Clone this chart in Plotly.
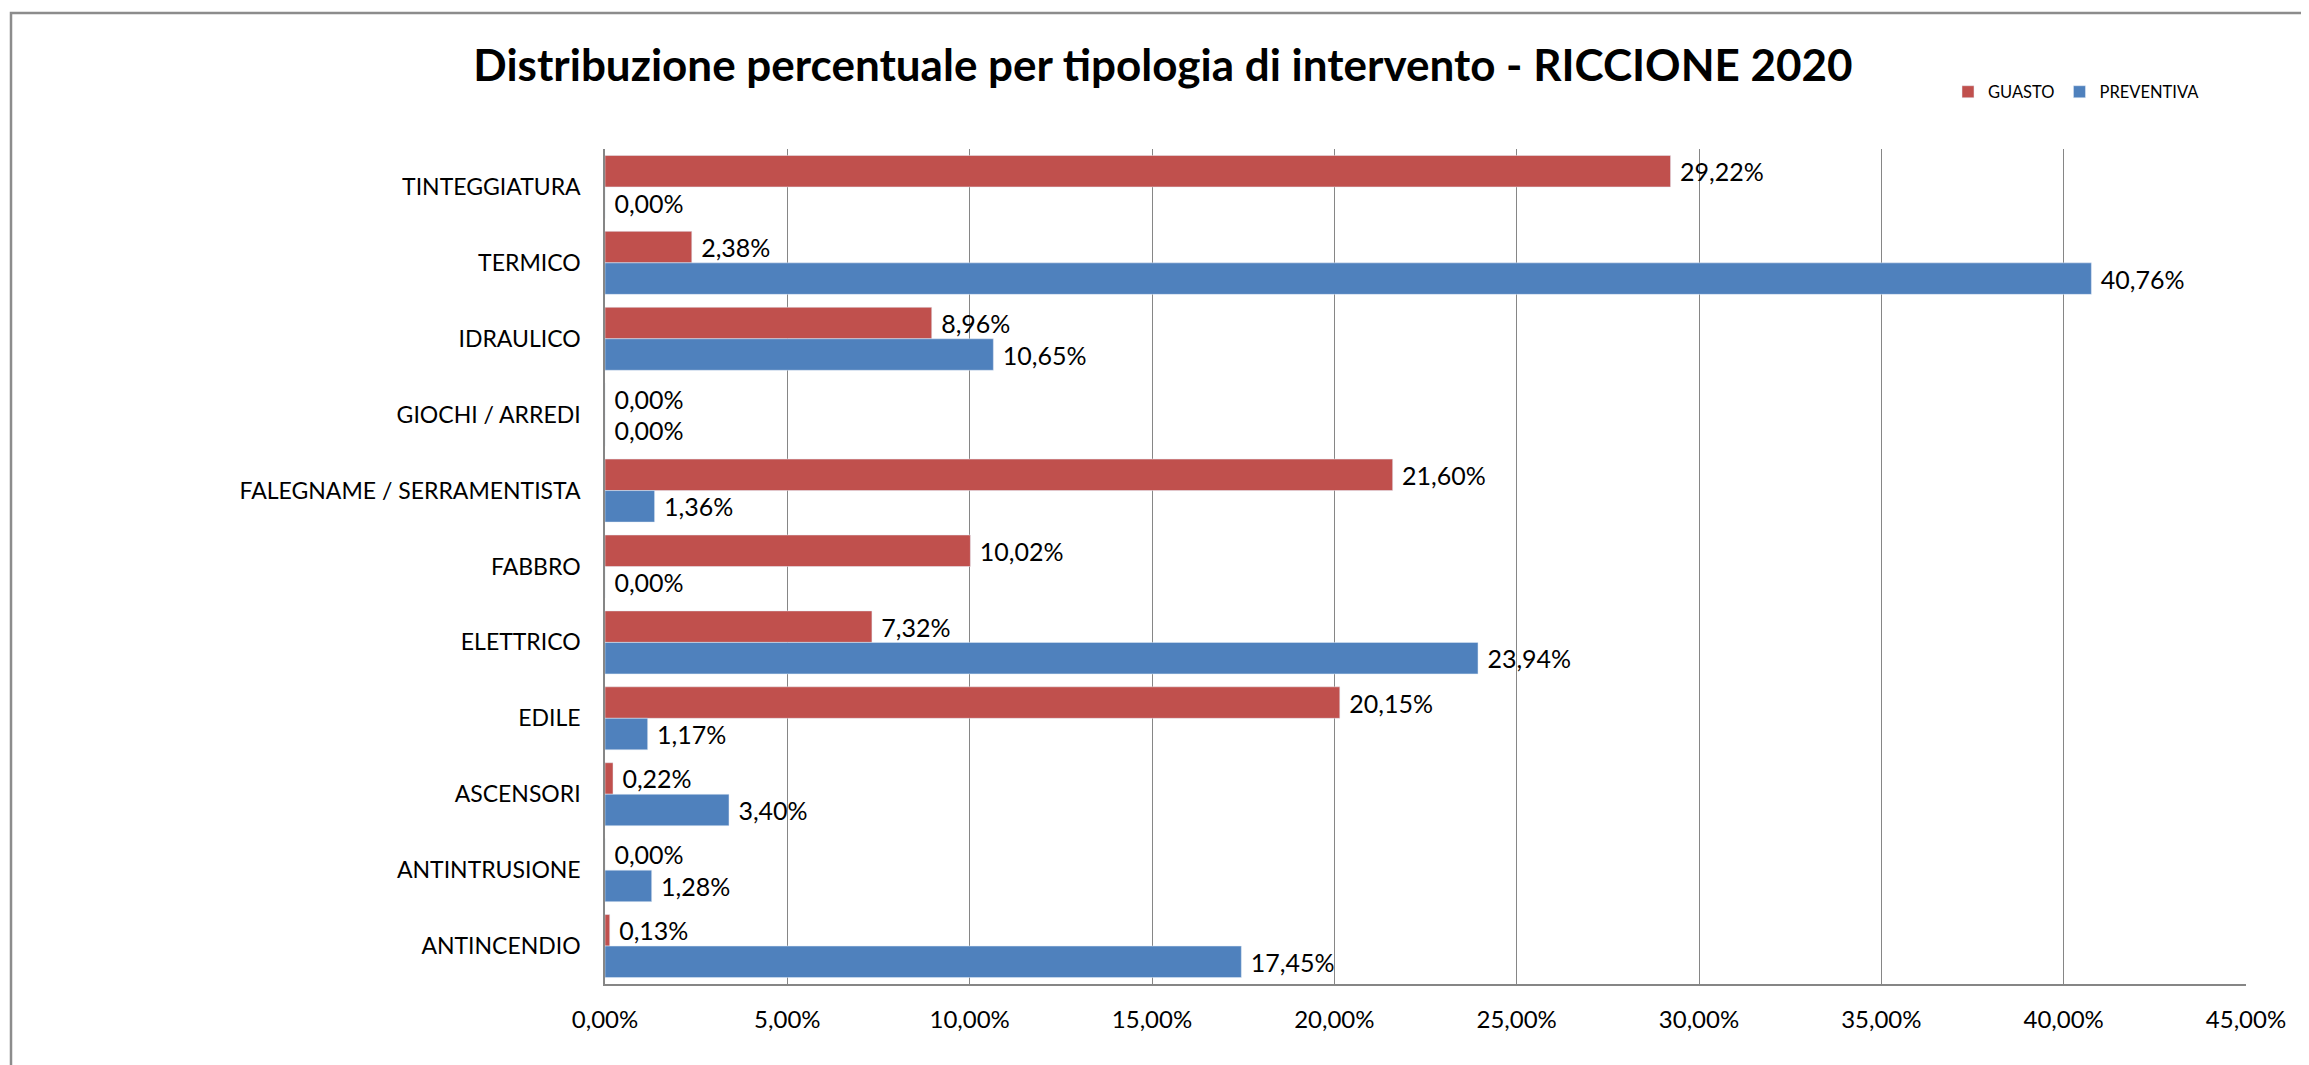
import plotly.graph_objects as go

categories = ["TINTEGGIATURA", "TERMICO", "IDRAULICO", "GIOCHI / ARREDI",
              "FALEGNAME / SERRAMENTISTA", "FABBRO", "ELETTRICO", "EDILE",
              "ASCENSORI", "ANTINTRUSIONE", "ANTINCENDIO"]
guasto = [29.22, 2.38, 8.96, 0.00, 21.60, 10.02, 7.32, 20.15, 0.22, 0.00, 0.13]
preventiva = [0.00, 40.76, 10.65, 0.00, 1.36, 0.00, 23.94, 1.17, 3.40, 1.28, 17.45]
x_ticks = [0, 5, 10, 15, 20, 25, 30, 35, 40, 45]
x_tick_labels = ["0,00%", "5,00%", "10,00%", "15,00%", "20,00%", "25,00%",
                 "30,00%", "35,00%", "40,00%", "45,00%"]

# page is offset by the 8px body margin
OFF = 8
W, H = 2309 - OFF, 1065 - OFF
L, T = 605 - OFF, 149 - OFF
R, B = W - (2246 - OFF), H - (984 - OFF)
pw, ph = W - L - R, H - T - B

FONT = "Lato"
RED = "#C0504D"
BLUE = "#4F81BD"
GRID = "#868686"

fig = go.Figure()
fig.add_trace(go.Bar(
    name="GUASTO", y=categories, x=guasto, orientation="h",
    marker=dict(color=RED),
    texttemplate="\u00a0%{x:.2f}%", textposition="outside",
    textfont=dict(family=FONT, size=25, color="#000000"),
    cliponaxis=False,
))
fig.add_trace(go.Bar(
    name="PREVENTIVA", y=categories, x=preventiva, orientation="h",
    marker=dict(color=BLUE),
    texttemplate="\u00a0%{x:.2f}%", textposition="outside",
    textfont=dict(family=FONT, size=25, color="#000000"),
    cliponaxis=False,
))

def px_x(x):
    return (x - OFF - L) / pw

def px_y(y):
    return (H - B - (y - OFF)) / ph

fig.update_layout(
    width=W, height=H,
    margin=dict(l=L, r=R, t=T, b=B),
    paper_bgcolor="white", plot_bgcolor="white",
    separators=",.",
    barmode="group", bargap=0.17, bargroupgap=0,
    title=dict(
        text="<b>Distribuzione percentuale per tipologia di intervento - RICCIONE 2020</b>",
        font=dict(family=FONT, size=44, color="#000000"),
        xref="container", yref="container",
        x=(1163 - OFF) / W, y=1 - (66 - OFF) / H, xanchor="center", yanchor="middle",
    ),
    legend=dict(
        orientation="h", x=px_x(1948), y=px_y(92), xanchor="left", yanchor="middle",
        font=dict(family=FONT, size=16.5, color="#000000"),
        itemwidth=30, bgcolor="rgba(0,0,0,0)", traceorder="normal",
    ),
    xaxis=dict(
        range=[0, 45], tickvals=x_ticks, ticktext=x_tick_labels,
        showgrid=True, gridcolor=GRID, gridwidth=1,
        showline=True, linecolor=GRID, linewidth=2,
        ticks="", ticklabelstandoff=13,
        tickfont=dict(family=FONT, size=24, color="#000000"),
        zeroline=False,
    ),
    yaxis=dict(
        type="category", autorange=False, range=[len(categories) - 0.5, -0.5],
        showline=True, linecolor=GRID, linewidth=1.5,
        ticks="", ticklabelstandoff=18,
        tickfont=dict(family=FONT, size=23, color="#000000"),
        showgrid=False, zeroline=False,
    ),
    shapes=[dict(
        type="rect", xref="paper", yref="paper",
        x0=px_x(11), x1=px_x(2309 + 20), y0=px_y(1065 + 20), y1=px_y(13),
        line=dict(color="#8c8c8c", width=2.5), fillcolor="rgba(0,0,0,0)",
        layer="below",
    )],
)

fig.write_html("out.html")
